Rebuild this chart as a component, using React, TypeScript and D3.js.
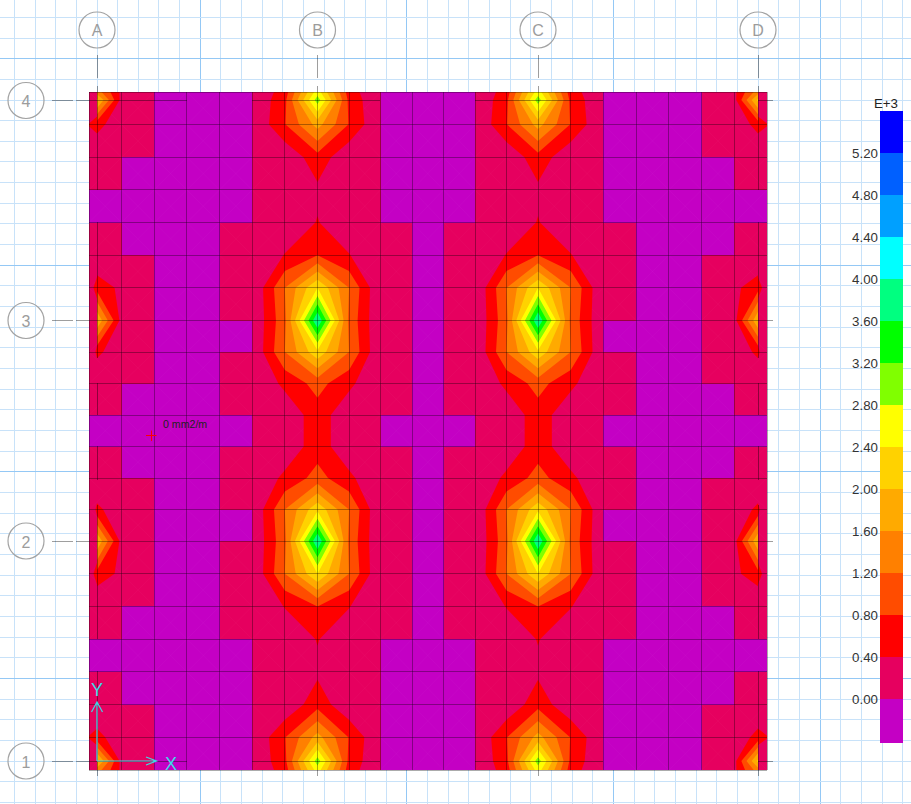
import * as d3 from 'd3'

const width = 911
const height = 804

// contour levels, in E+3 mm2/m, and the colour of each band from lowest to highest
const levels = [0, 0.4, 0.8, 1.2, 1.6, 2.0, 2.4, 2.8, 3.2, 3.6, 4.0, 4.4, 4.8, 5.2]
const bandColors = [
  '#c400c4', '#e6005f', '#ff0000', '#ff4c00', '#ff8000', '#ffaa00', '#ffd200', '#ffff00',
  '#80ff00', '#00ff00', '#00ff80', '#00ffff', '#00a0ff', '#0060ff', '#0000ff',
]
const legendTop = 5.6
const legendBottom = -0.42

const gridColumns = ['A', 'B', 'C', 'D']
const gridRows = ['4', '3', '2', '1']

// Flat value of each shell, quarter of the slab (the rest is mirrored)
const lo = -0.1
const hi = 0.2
const cellRows = [
  [hi, hi, lo, lo, lo, hi, hi, hi, hi, lo, lo],
  [hi, hi, lo, lo, lo, hi, hi, hi, hi, lo, lo],
  [hi, lo, lo, lo, lo, hi, hi, hi, hi, lo, lo],
  [lo, lo, lo, lo, lo, hi, hi, hi, hi, lo, lo],
  [hi, lo, lo, lo, hi, hi, hi, hi, hi, hi, lo],
  [hi, hi, lo, lo, hi, hi, hi, hi, hi, hi, lo],
  [hi, hi, lo, lo, hi, hi, hi, hi, hi, hi, lo],
  [hi, hi, lo, lo, lo, hi, hi, hi, hi, hi, lo],
  [hi, hi, lo, lo, hi, hi, hi, hi, hi, hi, lo],
  [hi, lo, lo, lo, hi, hi, hi, hi, hi, hi, lo],
  [lo, lo, lo, lo, lo, hi, hi, hi, hi, lo, lo],
]

// Node values from grid line A to the slab centre, quarter of the slab
const nodeRows = [
  [1.4, 0.3, 0, 0, 0, 0, 0.6, 2.6, 0.6, 0, 0],
  [2.1, 0.25, 0, 0, 0, 0, 0.7, 3.0, 0.7, 0, 0],
  [0.55, 0.1, 0, 0, 0, 0, 0.78, 1.75, 0.78, 0, 0],
  [0, 0, 0, 0, 0, 0, 0.07, 0.65, 0.07, 0, 0],
  [0, 0, 0, 0, 0, 0, 0, 0.32, 0, 0, 0],
  [0, 0, 0, 0, 0, 0, 0.1, 0.42, 0.1, 0, 0],
  [0, 0, 0, 0, 0, 0, 0.42, 0.8, 0.42, 0, 0],
  [0.65, 0.3, 0, 0, 0, 0, 1.2, 2.4, 1.2, 0, 0],
  [1.95, 0.25, 0, 0, 0, 0, 1.1, 4.0, 1.1, 0, 0],
  [0.5, 0.1, 0, 0, 0, 0, 1.2, 2.3, 1.2, 0, 0],
  [0, 0, 0, 0, 0, 0, 0.5, 0.95, 0.5, 0, 0],
  [0, 0, 0, 0, 0, 0, 0.1, 0.62, 0.1, 0, 0],
]

// Overhang strip outside grid line A: [slab edge, grid line] per node row
const overhangRows = [
  [0, 0], [0, 0.1], [0.42, 0.55], [0, 0], [0, 0], [0, 0],
  [0, 0], [0.15, 0.6], [0, 0], [0, 0.5], [0, 0], [0, 0],
]

// Where grid lines A/D and 4/1 show over the shells, in pixels along the line
const columnSpans = [[55, 78], [86, 190], [222, 358], [383, 415], [446, 480], [505, 639], [671, 776]]
const rowSpans = [[52, 73], [76, 187], [252, 380], [475, 603], [758, 773]]
// Grid lines lying on a mesh line only show outside the slab
const columnStubs = [[55, 78], [86, 92], [770, 776]]
const rowStubs = [[52, 73], [76, 89], [767, 773]]

// node index -> pixel, the slab mesh has extra nodes on grid lines A/D and 4/1
const nodeIdx = [0, 1, 2, 8, 15, 21, 22, 23]
const x = d3.scaleLinear(nodeIdx, [89, 97, 121.6, 317.5, 538, 734.3, 758, 767]).clamp(true)
const y = d3.scaleLinear(nodeIdx, [92, 100, 124.6, 320.5, 541, 737.3, 761, 770]).clamp(true)
const meshIdx = d3.range(24).filter((i) => i !== 1 && i !== 22)

const color = d3.scaleThreshold<number, string>().domain(levels).range(bandColors)
const mirror = (i: number, n: number) => (i < n ? i : 2 * n - 1 - i)
const fold = (c: number) => (c <= 10 ? c : 20 - c)

const field: number[] = []
for (let j = 0; j < 24; j++) {
  for (let i = 0; i < 24; i++) {
    const col = Math.max(mirror(i, 12) - 1, 0)
    field.push(nodeRows[mirror(j, 12)][col])
  }
}
const overhang: number[] = []
for (let j = 0; j < 24; j++) overhang.push(...overhangRows[mirror(j, 12)])

const contourLevels = levels.filter((l) => l >= 0.4)
const bands = d3.contours().size([24, 24]).thresholds(contourLevels)(field)
const overhangBand = d3.contours().size([2, 24]).thresholds([0.4])(overhang)[0]

const pathWith = (sx: (v: number) => number) =>
  d3.geoPath(
    d3.geoTransform({
      point(px, py) {
        this.stream.point(sx(px - 0.5), y(py - 0.5))
      },
    })
  )
const slabPath = pathWith((v) => x(v))
const overhangLeft = pathWith(d3.scaleLinear([0, 1], [89, 97]).clamp(true))
const overhangRight = pathWith(d3.scaleLinear([0, 1], [767, 758]).clamp(true))

// drawing-paper grid behind the model
const paper = d3.scaleLinear([0, 1], [97, 117.66])
const paperY = d3.scaleLinear([0, 1], [100, 120.66])

const legend = d3.scaleLinear([0, 5.2], [699, 153])
const legendBands = bandColors.map((c, i) => ({
  c,
  from: i === 0 ? legendBottom : levels[i - 1],
  to: i === levels.length ? legendTop : levels[i],
}))

const axisColor = '#3ddbe6'
const gridStroke = 'rgba(0,0,0,0.38)'
const meshStroke = 'rgba(0,0,0,0.33)'
const font = '"Liberation Sans", Arial, sans-serif'

export default function App() {
  const columnX = [97, 317.5, 538, 758]
  const rowY = [100.5, 320.5, 541, 761]
  return (
    <svg
      width={width}
      height={height}
      style={{ position: 'absolute', left: 0, top: 0, background: '#fff' }}
      fontFamily={font}
    >
      <defs>
        <clipPath id="inside-grid">
          <rect x={97} y={92} width={661} height={678} />
        </clipPath>
      </defs>

      <g shapeRendering="crispEdges">
        {d3.range(-4, 40).map((k) => (
          <line
            key={k}
            x1={paper(k)}
            x2={paper(k)}
            y1={0}
            y2={height}
            stroke={((k % 10) + 10) % 10 === 5 ? '#94c8f5' : '#c8e2f9'}
          />
        ))}
        {d3.range(-4, 36).map((k) => (
          <line
            key={k}
            y1={paperY(k)}
            y2={paperY(k)}
            x1={0}
            x2={width}
            stroke={((k % 10) + 10) % 10 === 8 ? '#94c8f5' : '#c8e2f9'}
          />
        ))}
      </g>

      {/* flat shell colours */}
      <g shapeRendering="crispEdges">
        {d3.range(21).map((r) =>
          d3.range(21).map((c) => {
            const x0 = x(meshIdx[c])
            const y0 = y(meshIdx[r])
            return (
              <rect
                key={`${r}-${c}`}
                x={x0}
                y={y0}
                width={x(meshIdx[c + 1]) - x0}
                height={y(meshIdx[r + 1]) - y0}
                fill={color(cellRows[fold(r)][fold(c)])}
              />
            )
          })
        )}
      </g>
      <g stroke="rgba(255,255,255,0.025)">
        {d3.range(21).map((r) =>
          d3.range(21).map((c) => {
            const x0 = x(meshIdx[c])
            const x1 = x(meshIdx[c + 1])
            const y0 = y(meshIdx[r])
            const y1 = y(meshIdx[r + 1])
            return <path key={`${r}-${c}`} d={`M${x0},${y0}L${x1},${y1}M${x1},${y0}L${x0},${y1}`} />
          })
        )}
      </g>

      {/* stress contours */}
      <g clipPath="url(#inside-grid)">
        {bands.map((b) => (
          <path key={b.value} d={slabPath(b) as string} fill={color(b.value)} />
        ))}
      </g>
      <path d={overhangLeft(overhangBand) as string} fill={color(0.4)} />
      <path d={overhangRight(overhangBand) as string} fill={color(0.4)} />

      {/* mesh */}
      <g stroke={meshStroke} shapeRendering="crispEdges">
        {meshIdx.map((i) => (
          <line key={i} x1={x(i)} x2={x(i)} y1={92} y2={770} />
        ))}
        {meshIdx.map((j) => (
          <line key={j} y1={y(j)} y2={y(j)} x1={89} x2={767} />
        ))}
      </g>

      {/* grid lines and bubbles */}
      <g stroke={gridStroke} shapeRendering="crispEdges">
        {columnX.map((cx, i) =>
          (i === 0 || i === 3 ? columnSpans : columnStubs).map(([a, b]) => (
            <line key={`${cx}-${a}`} x1={cx} x2={cx} y1={a} y2={b} />
          ))
        )}
        {rowY.map((cy, i) =>
          (i === 0 || i === 3 ? rowSpans : rowStubs).map(([a, b]) => (
            <line key={`${cy}-${a}`} y1={cy} y2={cy} x1={a} x2={b} />
          ))
        )}
      </g>
      <g fill="none" stroke="#a3a3a3" strokeWidth={1.2}>
        {columnX.map((cx) => (
          <circle key={cx} cx={cx} cy={30} r={18} />
        ))}
        {rowY.map((cy) => (
          <circle key={cy} cx={26} cy={cy} r={18} />
        ))}
      </g>
      <g fill="#9c9c9c" fontSize={16} textAnchor="middle" dominantBaseline="central">
        {gridColumns.map((t, i) => (
          <text key={t} x={columnX[i]} y={30}>
            {t}
          </text>
        ))}
        {gridRows.map((t, i) => (
          <text key={t} x={26} y={rowY[i] + 1}>
            {t}
          </text>
        ))}
      </g>

      {/* value pick */}
      <g stroke="#ff0000">
        <line x1={146} x2={156.5} y1={435.5} y2={435.5} />
        <line x1={151.5} x2={151.5} y1={430.5} y2={441} />
      </g>
      <text x={163} y={428} fontSize={10.6} fill="#222">
        0 mm2/m
      </text>

      {/* global axes */}
      <g stroke={axisColor} strokeWidth={1.2} fill="none">
        <path d="M97,761H156.5M146,757L156.5,761L146,765" />
        <path d="M97,761V702M91.5,712L97,702L102.5,712" />
      </g>
      <g fill={axisColor} fontSize={18} textAnchor="middle" dominantBaseline="central">
        <text x={171} y={764}>
          X
        </text>
        <text x={97} y={690}>
          Y
        </text>
      </g>

      {/* legend */}
      <g shapeRendering="crispEdges">
        {legendBands.map((b) => (
          <rect
            key={b.c}
            x={880}
            y={legend(b.to)}
            width={23}
            height={legend(b.from) - legend(b.to)}
            fill={b.c}
          />
        ))}
      </g>
      <g fontSize={13.3} fill="#333" textAnchor="end" dominantBaseline="central">
        {levels.map((l) => (
          <text key={l} x={878} y={legend(l)}>
            {d3.format('.2f')(l)}
          </text>
        ))}
      </g>
      <text x={886} y={103} fontSize={13.3} fill="#222" textAnchor="middle" dominantBaseline="central">
        E+3
      </text>
    </svg>
  )
}
